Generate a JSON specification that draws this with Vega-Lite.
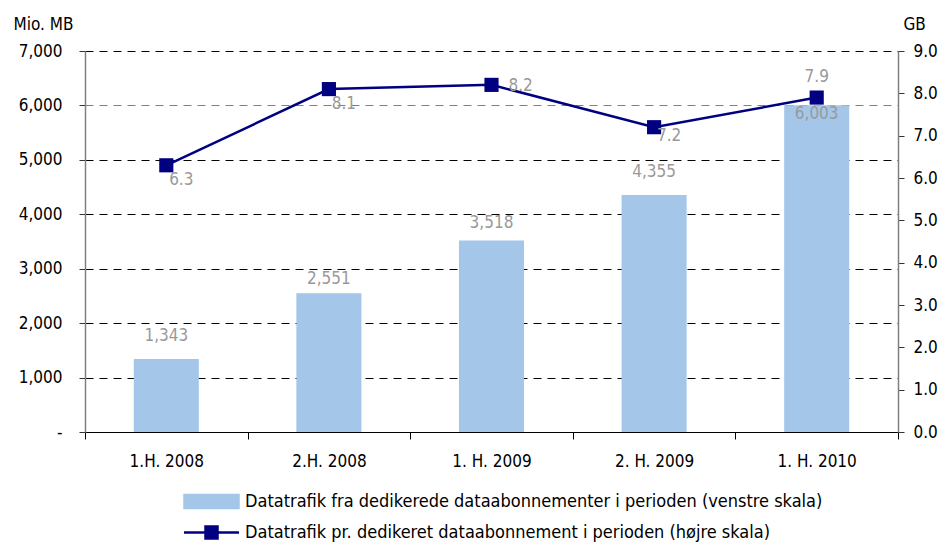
{
  "$schema": "https://vega.github.io/schema/vega-lite/v6.json",
  "width": 813,
  "height": 381,
  "autosize": {"type": "none"},
  "padding": {"left": 85, "top": 51, "right": 43, "bottom": 113},
  "background": "white",
  "config": {
    "font": "DejaVu Sans Condensed, Roboto, sans-serif",
    "view": {"stroke": null},
    "axis": {"labelFontSize": 17, "labelColor": "black", "titleFontSize": 17, "titleFontWeight": "normal", "titleColor": "black"}
  },
  "data": {
    "values": [
      {"period": "1.H. 2008", "mb": 1343, "gb": 6.3},
      {"period": "2.H. 2008", "mb": 2551, "gb": 8.1},
      {"period": "1. H. 2009", "mb": 3518, "gb": 8.2},
      {"period": "2. H. 2009", "mb": 4355, "gb": 7.2},
      {"period": "1. H. 2010", "mb": 6003, "gb": 7.9}
    ]
  },
  "encoding": {
    "x": {
      "field": "period",
      "type": "nominal",
      "sort": null,
      "scale": {"paddingInner": 0, "paddingOuter": 0},
      "axis": {
        "title": null,
        "labelAngle": 0,
        "tickBand": "extent",
        "tickSize": 7,
        "tickColor": "black",
        "domainColor": "black",
        "domainWidth": 1,
        "labelPadding": 14
      }
    }
  },
  "layer": [
    {
      "encoding": {
        "y": {
          "field": "mb",
          "type": "quantitative",
          "scale": {"domain": [0, 7000], "nice": false},
          "axis": {
            "title": "Mio. MB",
            "titleAngle": 0,
            "titleAlign": "left",
            "titleBaseline": "middle",
            "titleX": -72,
            "titleY": -27,
            "values": [0, 1000, 2000, 3000, 4000, 5000, 6000, 7000],
            "labelExpr": "datum.value === 0 ? '-\u2007\u2007\u2008' : format(datum.value, ',')",
            "grid": true,
            "gridDash": [8, 6],
            "gridColor": {"condition": {"test": "datum.value === 6000", "value": "#808080"}, "value": "black"},
            "gridWidth": 1,
            "domainColor": "#808080",
            "domainWidth": 1.5,
            "tickColor": "#333333",
            "tickSize": 6,
            "labelPadding": 17
          }
        }
      },
      "layer": [
        {
          "mark": {"type": "bar", "color": "#a4c6e9", "width": {"band": 0.4}},
          "encoding": {
            "color": {
              "datum": "Datatrafik fra dedikerede dataabonnementer i perioden (venstre skala)",
              "type": "nominal",
              "scale": {
                "domain": [
                  "Datatrafik fra dedikerede dataabonnementer i perioden (venstre skala)",
                  "Datatrafik pr. dedikeret dataabonnement i perioden (højre skala)"
                ],
                "range": ["#a4c6e9", "#000080"]
              },
              "legend": {
                "orient": "none",
                "legendX": 117,
                "legendY": 441,
                "direction": "vertical",
                "title": null,
                "symbolSize": 256,
                "labelOffset": 24,
                "rowPadding": 8,
                "padding": 0,
                "labelFontSize": 18,
                "labelColor": "black",
                "labelLimit": 0,
                "encode": {
                  "symbols": {
                    "update": {
                      "shape": {"signal": "datum.value === 'Datatrafik fra dedikerede dataabonnementer i perioden (venstre skala)' ? 'M-3.375,-0.8125H3.375V0.8125H-3.375Z' : 'M-3.44,0H3.44M-0.75,-0.75H0.75V0.75H-0.75Z'"},
                      "fill": {"signal": "datum.value === 'Datatrafik fra dedikerede dataabonnementer i perioden (venstre skala)' ? '#a4c6e9' : '#000080'"},
                      "stroke": {"signal": "datum.value === 'Datatrafik fra dedikerede dataabonnementer i perioden (venstre skala)' ? 'transparent' : '#000080'"},
                      "strokeWidth": {"value": 2.5},
                      "opacity": {"value": 1},
                      "fillOpacity": {"value": 1},
                      "strokeOpacity": {"value": 1}
                    }
                  }
                }
              }
            }
          }
        },
        {
          "transform": [{"filter": "datum.mb === 1343 || datum.mb === 4355"}],
          "mark": {"type": "text", "dy": -18, "baseline": "alphabetic", "fontSize": 17, "color": "#999999"},
          "encoding": {"text": {"field": "mb", "type": "quantitative", "format": ","}}
        },
        {
          "transform": [{"filter": "datum.mb === 2551"}],
          "mark": {"type": "text", "dy": -9, "baseline": "alphabetic", "fontSize": 17, "color": "#999999"},
          "encoding": {"text": {"field": "mb", "type": "quantitative", "format": ","}}
        },
        {
          "transform": [{"filter": "datum.mb === 3518"}],
          "mark": {"type": "text", "dy": -13, "baseline": "alphabetic", "fontSize": 17, "color": "#999999"},
          "encoding": {"text": {"field": "mb", "type": "quantitative", "format": ","}}
        },
        {
          "transform": [{"filter": "datum.mb >= 6000"}],
          "mark": {"type": "text", "dy": 1, "baseline": "top", "fontSize": 17, "color": "#999999"},
          "encoding": {"text": {"field": "mb", "type": "quantitative", "format": ","}}
        }
      ]
    },
    {
      "encoding": {
        "y": {
          "field": "gb",
          "type": "quantitative",
          "scale": {"domain": [0, 9], "nice": false},
          "axis": {
            "orient": "right",
            "title": "GB",
            "titleAngle": 0,
            "titleAlign": "left",
            "titleBaseline": "middle",
            "titleX": 5,
            "titleY": -27,
            "values": [0, 1, 2, 3, 4, 5, 6, 7, 8, 9],
            "format": ".1f",
            "grid": false,
            "domainColor": "#808080",
            "domainWidth": 1.5,
            "tickColor": "#333333",
            "tickSize": 6,
            "labelPadding": 9
          }
        }
      },
      "layer": [
        {
          "mark": {"type": "line", "strokeWidth": 2.5, "point": {"shape": "square", "size": 200, "filled": true, "opacity": 1}},
          "encoding": {
            "color": {"datum": "Datatrafik pr. dedikeret dataabonnement i perioden (højre skala)", "type": "nominal"}
          }
        },
        {
          "transform": [{"filter": "datum.period === '1.H. 2008' || datum.period === '2.H. 2008'"}],
          "mark": {"type": "text", "dx": 15, "dy": 20, "baseline": "alphabetic", "fontSize": 17, "color": "#999999"},
          "encoding": {"text": {"field": "gb", "type": "quantitative", "format": ".1f"}}
        },
        {
          "transform": [{"filter": "datum.period === '2. H. 2009'"}],
          "mark": {"type": "text", "dx": 15, "dy": 14, "baseline": "alphabetic", "fontSize": 17, "color": "#999999"},
          "encoding": {"text": {"field": "gb", "type": "quantitative", "format": ".1f"}}
        },
        {
          "transform": [{"filter": "datum.period === '1. H. 2009'"}],
          "mark": {"type": "text", "dx": 17, "dy": 6, "align": "left", "baseline": "alphabetic", "fontSize": 17, "color": "#999999"},
          "encoding": {"text": {"field": "gb", "type": "quantitative", "format": ".1f"}}
        },
        {
          "transform": [{"filter": "datum.period === '1. H. 2010'"}],
          "mark": {"type": "text", "dy": -16, "baseline": "alphabetic", "fontSize": 17, "color": "#999999"},
          "encoding": {"text": {"field": "gb", "type": "quantitative", "format": ".1f"}}
        }
      ]
    }
  ],
  "resolve": {"scale": {"y": "independent"}}
}
